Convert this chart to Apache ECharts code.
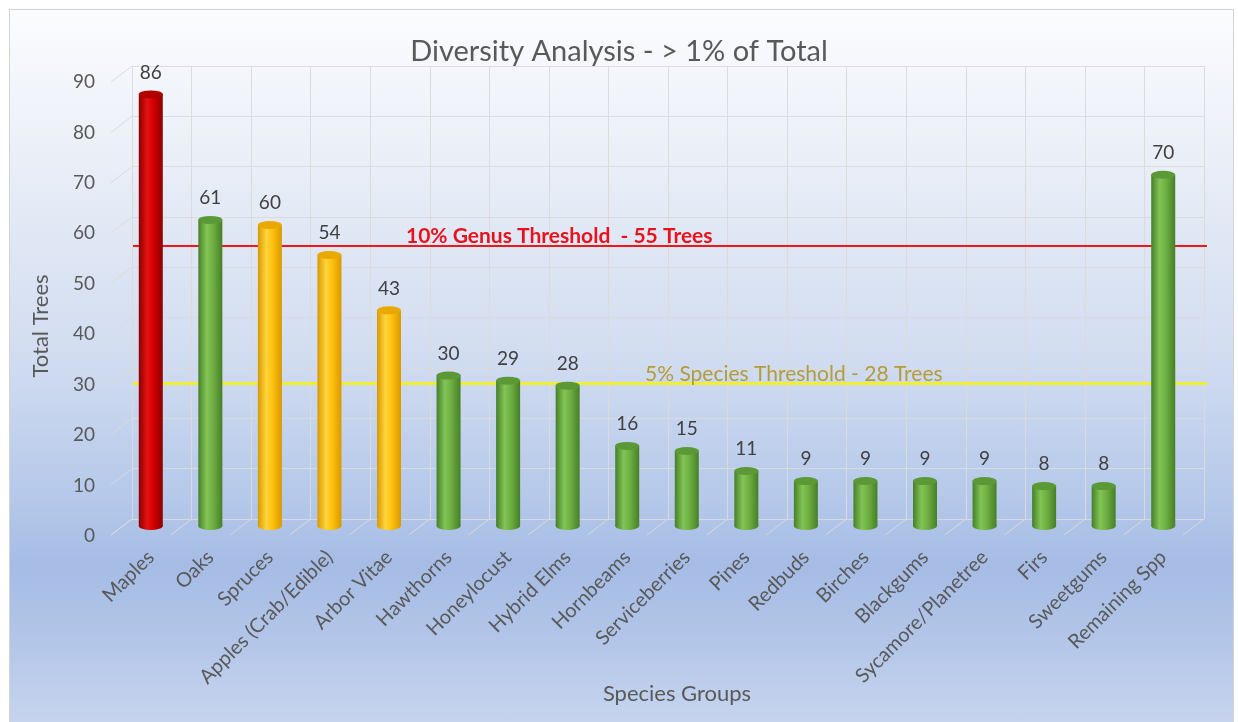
<!DOCTYPE html>
<html>
<head>
<meta charset="utf-8">
<title>Diversity Analysis</title>
<script src="https://cdn.jsdelivr.net/npm/echarts@6/dist/echarts.min.js"></script>
<style>
  html, body { margin: 0; padding: 0; background: #ffffff; }
  #frame {
    position: absolute; left: 9px; top: 9px; right: 4px; bottom: 0;
    border: 1px solid #d4d4d4; border-bottom: none;
    background: linear-gradient(to bottom, #fbfcfe 0%, #e9eef7 22%, #d2ddf1 48%, #b6c9ea 68%, #a6bce5 78%, #b2c5e8 88%, #c6d4ee 100%);
  }
  #chart { position: absolute; left: 0; top: 0; width: 1238px; height: 722px; }
</style>
</head>
<body>
<div id="frame"></div>
<div id="chart"></div>
<script>
// Species groups and tree counts
const categories = ['Maples', 'Oaks', 'Spruces', 'Apples (Crab/Edible)', 'Arbor Vitae', 'Hawthorns',
  'Honeylocust', 'Hybrid Elms', 'Hornbeams', 'Serviceberries', 'Pines', 'Redbuds', 'Birches',
  'Blackgums', 'Sycamore/Planetree', 'Firs', 'Sweetgums', 'Remaining Spp'];
const totals = [86, 61, 60, 54, 43, 30, 29, 28, 16, 15, 11, 9, 9, 9, 9, 8, 8, 70];
// status of each group: 'over' = above genus limit, 'watch' = above species limit, 'ok'
const status = ['over', 'ok', 'watch', 'watch', 'watch', 'ok', 'ok', 'ok', 'ok', 'ok', 'ok', 'ok',
  'ok', 'ok', 'ok', 'ok', 'ok', 'ok'];
const yTicks = [0, 10, 20, 30, 40, 50, 60, 70, 80, 90];
const genusThreshold = 55;
const speciesThreshold = 28;

const palette = {
  over:  { edge: '#8a0000', mid: '#d40000', hi: '#e31212', cap: '#b00000', rim: '#e84040' },
  watch: { edge: '#d99800', mid: '#ffc20e', hi: '#ffd43c', cap: '#eaa900', rim: '#ffd850' },
  ok:    { edge: '#467f28', mid: '#70b043', hi: '#82c456', cap: '#5a9936', rim: '#8fcf63' }
};

function cylinder(p) {
  return new echarts.graphic.LinearGradient(0, 0, 1, 0, [
    { offset: 0, color: p.edge },
    { offset: 0.35, color: p.hi },
    { offset: 0.6, color: p.mid },
    { offset: 1, color: p.edge }
  ]);
}

const barW = 24;
const textColor = '#595959';
const gridColor = 'rgba(218,218,218,0.95)';
const font = 'Lato, "Open Sans", sans-serif';

const barData = totals.map((v, i) => ({
  value: v,
  itemStyle: { color: cylinder(palette[status[i]]) }
}));
const capData = totals.map((v, i) => ({
  value: v,
  itemStyle: { color: palette[status[i]].cap, borderColor: palette[status[i]].rim, borderWidth: 1 }
}));
const baseData = totals.map((v, i) => ({
  value: v,
  itemStyle: { color: cylinder(palette[status[i]]) }
}));

const chart = echarts.init(document.getElementById('chart'), null, { renderer: 'canvas' });

const depthX = -21, depthY = 16;

chart.setOption({
  backgroundColor: 'transparent',
  animation: false,
  title: {
    text: 'Diversity Analysis - > 1% of Total',
    left: 'center', top: 32,
    textStyle: { fontFamily: font, fontSize: 29, fontWeight: 'normal', color: textColor }
  },
  grid: [
    { left: 132, right: 34, top: 66, bottom: 203 },   // back wall
    { left: 121, right: 45, top: 74, bottom: 196 },   // bars
    { left: 110, right: 56, top: 82, bottom: 186 },   // front plane (value labels)
    { left: 133, right: 31, top: 68, bottom: 197 }    // threshold lines
  ],
  xAxis: [
    { type: 'category', gridIndex: 0, data: categories, boundaryGap: true,
      axisLine: { show: false }, axisTick: { show: false }, axisLabel: { show: false },
      splitLine: { show: true, interval: 0, lineStyle: { color: gridColor, width: 1 } } },
    { type: 'category', gridIndex: 1, data: categories,
      axisLine: { show: false }, axisTick: { show: false },
      axisLabel: { interval: 0, rotate: 45, margin: 28, color: textColor, fontSize: 20, fontFamily: font },
      name: 'Species Groups', nameLocation: 'middle', nameGap: 157, nameMoveOverlap: false,
      nameTextStyle: { color: textColor, fontSize: 22, fontFamily: font, padding: [0, 0, 0, 40] } },
    { type: 'category', gridIndex: 2, data: categories, show: false },
    { type: 'category', gridIndex: 3, data: categories, show: false }
  ],
  yAxis: [
    { type: 'value', gridIndex: 0, min: 0, max: 90, interval: 10,
      axisLine: { show: false }, axisTick: { show: false }, axisLabel: { show: false },
      splitLine: { show: true, lineStyle: { color: gridColor, width: 1 } } },
    { type: 'value', gridIndex: 1, min: 0, max: 90, interval: 10, show: false },
    { type: 'value', gridIndex: 2, min: 0, max: 90, interval: 10,
      axisLine: { show: false }, axisTick: { show: false }, splitLine: { show: false },
      axisLabel: { margin: 15, color: textColor, fontSize: 19, fontFamily: font },
      name: 'Total Trees', nameLocation: 'middle', nameGap: 58, nameRotate: 90,
      nameTextStyle: { color: textColor, fontSize: 22, fontFamily: font, padding: [0, 34, 0, 0] } },
    { type: 'value', gridIndex: 3, min: 0, max: 90, interval: 10, show: false }
  ],
  series: [
    // floor depth lines at each category boundary
    {
      type: 'custom', xAxisIndex: 0, yAxisIndex: 0, silent: true, z: 1,
      data: categories.map((c, i) => [i, 0]),
      renderItem: function (params, api) {
        const p = api.coord([api.value(0), 0]);
        const w = api.size([1, 0])[0];
        const xs = [p[0] - w / 2];
        if (params.dataIndex === categories.length - 1) xs.push(p[0] + w / 2);
        return {
          type: 'group',
          children: xs.map(x => ({
            type: 'line',
            shape: { x1: x, y1: p[1], x2: x + depthX, y2: p[1] + depthY },
            style: { stroke: gridColor, lineWidth: 1 }
          }))
        };
      }
    },
    // side wall depth lines at each value tick
    {
      type: 'custom', xAxisIndex: 0, yAxisIndex: 0, silent: true, z: 1,
      data: yTicks.map(v => [0, v]),
      renderItem: function (params, api) {
        const p = api.coord([0, api.value(1)]);
        const w = api.size([1, 0])[0];
        const x = p[0] - w / 2;
        return {
          type: 'line',
          shape: { x1: x, y1: p[1], x2: x + depthX, y2: p[1] + depthY },
          style: { stroke: gridColor, lineWidth: 1 }
        };
      }
    },
    // threshold lines
    {
      type: 'line', xAxisIndex: 3, yAxisIndex: 3, data: [], silent: true,
      markLine: {
        symbol: 'none', silent: true, animation: false,
        data: [
          { yAxis: genusThreshold,
            lineStyle: { color: '#f41616', width: 2, type: 'solid' },
            label: { show: true, position: 'insideStartTop', distance: -1,
              formatter: '10% Genus Threshold  - ' + genusThreshold + ' Trees',
              color: '#e8121c', fontWeight: 'bold', fontSize: 21, fontFamily: font,
              padding: [0, 0, 0, 274] } },
          { yAxis: speciesThreshold,
            lineStyle: { color: '#f2ee30', width: 3, type: 'solid' },
            label: { show: true, position: 'insideStartTop', distance: -2,
              formatter: '5% Species Threshold - ' + speciesThreshold + ' Trees',
              color: '#b39c3c', fontSize: 21, fontFamily: font,
              padding: [0, 0, 0, 514] } }
        ]
      },
      z: 3
    },
    // cylinder bottoms
    {
      type: 'pictorialBar', xAxisIndex: 1, yAxisIndex: 1, data: baseData,
      symbol: 'circle', symbolSize: [barW, 8], symbolPosition: 'start', symbolOffset: [0, '50%'],
      barWidth: barW, barGap: '-100%', z: 4, silent: true
    },
    // cylinder bodies
    {
      type: 'bar', xAxisIndex: 1, yAxisIndex: 1, data: barData,
      barWidth: barW, barGap: '-100%', z: 5,
      label: { show: true, position: 'top', distance: 12, color: '#404040', fontSize: 19, fontFamily: font }
    },
    // cylinder tops
    {
      type: 'pictorialBar', xAxisIndex: 1, yAxisIndex: 1, data: capData,
      symbol: 'circle', symbolSize: [barW, 8], symbolPosition: 'end', symbolOffset: [0, '-50%'],
      barWidth: barW, barGap: '-100%', z: 6, silent: true
    }
  ]
});
</script>
</body>
</html>
